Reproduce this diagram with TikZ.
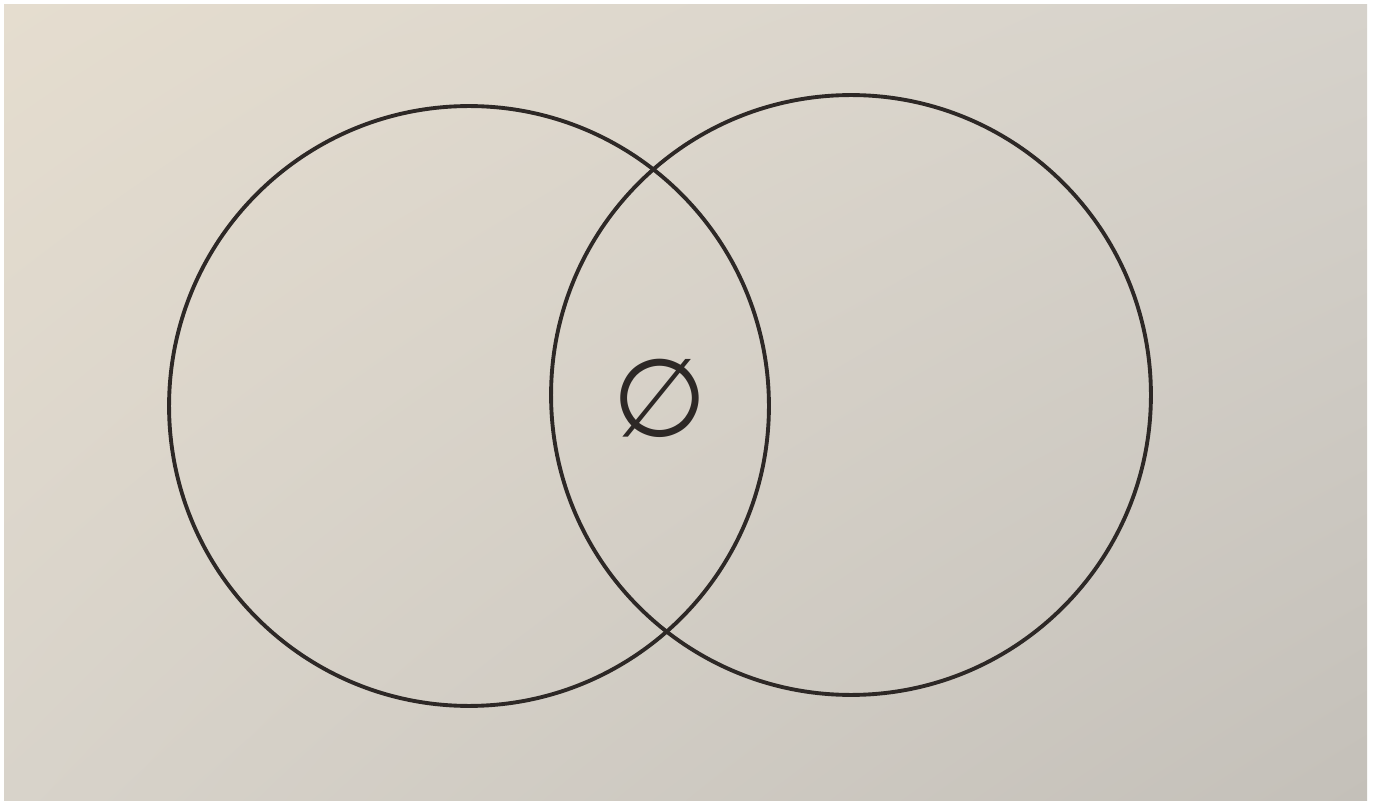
\documentclass[tikz,border=0pt]{standalone}
\usepackage{fontspec}
\newfontfamily\emptyfont{DejaVu Sans}
\usetikzlibrary{shadings}
\definecolor{paperlt}{RGB}{229,221,207}
\definecolor{papertr}{RGB}{214,210,203}
\definecolor{paperbl}{RGB}{216,211,202}
\definecolor{paperdk}{RGB}{196,192,185}
\definecolor{ink}{RGB}{45,40,38}
\begin{document}
\begin{tikzpicture}[x=0.02cm,y=-0.02cm,
  every node/.style={circle,draw=ink,line width=2.2pt,inner sep=0pt,minimum size=12cm}]
\useasboundingbox (0,0) rectangle (1373,807);
\fill[white] (0,0) rectangle (1373,807);
\shade[upper left=paperlt,upper right=papertr,lower left=paperbl,lower right=paperdk]
  (4,5) rectangle (1367,800);
\node (setA) at (469,406) {};
\node (setB) at (851,395) {};
\node[draw=none,minimum size=0pt,text=ink,font=\emptyfont\fontsize{62}{62}\selectfont] (empty) at (660,398) {∅};
\end{tikzpicture}
\end{document}
